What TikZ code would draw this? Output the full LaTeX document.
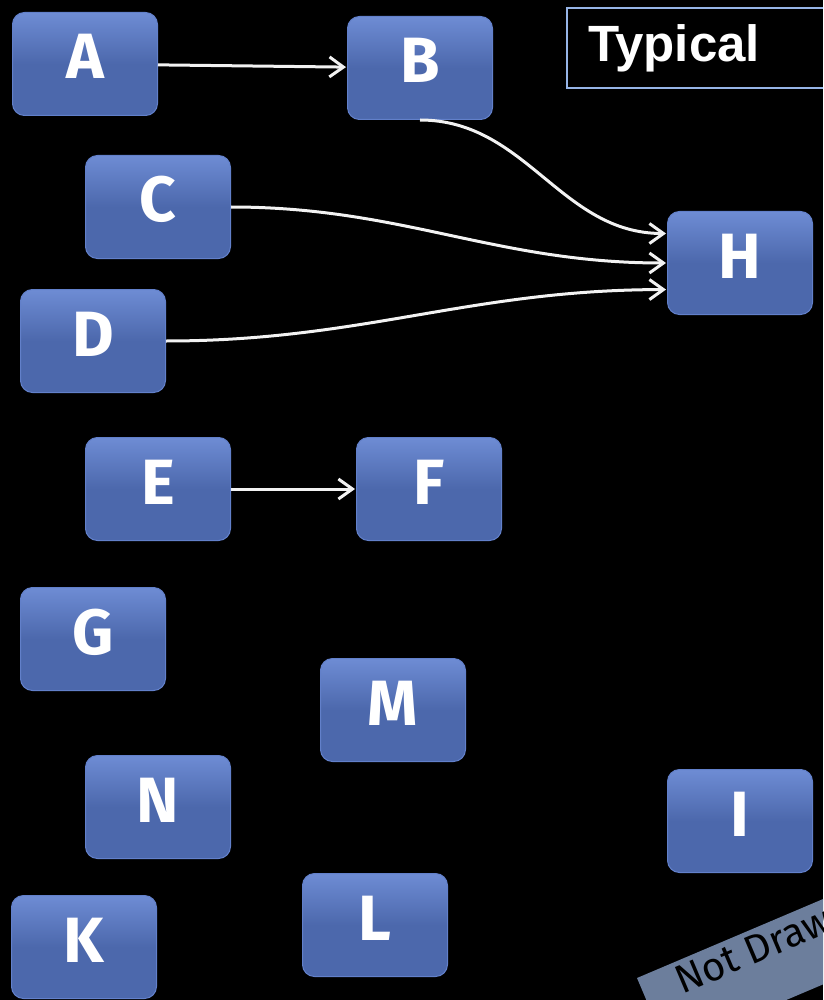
\documentclass[tikz,border=0pt]{standalone}
\usepackage{fontspec}
\setmainfont{Fira Sans}
\newfontfamily\labelfont{Liberation Sans}
\usetikzlibrary{
arrows.meta,
graphs,
positioning,
}
\definecolor{boxfill}{RGB}{76,104,172}
\definecolor{boxtop}{RGB}{110,140,212}
\definecolor{boxedge}{RGB}{98,128,202}
\definecolor{typedge}{RGB}{150,180,230}
\definecolor{notfill}{RGB}{108,126,156}
\definecolor{wire}{RGB}{242,242,242}
\tikzset{
node distance=1em,
outer sep=auto,
every node/.style={align=center},
letter/.style={rectangle, rounded corners=12pt, draw=boxedge, line width=1pt,
  top color=boxtop, bottom color=boxfill, middle color=boxfill,
  minimum width=145pt, minimum height=103pt, text=white,
  text height=44pt, text depth=14pt,
  font=\fontsize{64}{64}\selectfont\bfseries},
typbox/.style={rectangle, draw=typedge, line width=2pt, text=white,
  text width=230pt, align=left, inner xsep=21pt, minimum height=80pt,
  font=\labelfont\fontsize{51}{51}\selectfont\bfseries},
notdrawn/.style={rectangle, fill=notfill, text=black, align=left,
  inner xsep=35pt, inner ysep=5.5pt, text depth=40pt,
  font=\fontsize{40}{40}\selectfont},
wire/.style={draw=wire, line width=3pt},
>={Straight Barb[length=14pt,width=20pt]},
shorten >=1pt,
}

\begin{document}
\begin{tikzpicture}[x=1pt, y=-1pt]
\useasboundingbox (0,0) rectangle (823,1000);
\clip (0,0) rectangle (823,1000);
\fill[black] (0,0) rectangle (823,1000);
% boxes
\node (A) [letter] at (85,64)  {A};
\node (B) [letter] at (420,68) {B};
\node (C) [letter] at (158,207) {C};
\node (D) [letter] at (93,341) {D};
\node (E) [letter] at (158,489) {E};
\node (F) [letter] at (429,489) {F};
\node (G) [letter] at (93,639) {G};
\node (H) [letter] at (740,263) {H};
\node (M) [letter] at (393,710) {M};
\node (N) [letter] at (158,807) {N};
\node (I) [letter] at (740,821) {I};
\node (K) [letter] at (84,947) {K};
\node (L) [letter] at (375,925) {L};
% labels
\node (typ) [typbox, anchor=west] at (566,48) {Typical};
\node (nds) [notdrawn, rotate=23, anchor=north west] at (637,978) {Not Drawn};
\graph [use existing nodes, edges={wire}] {
    A -> B;
    E -> F;
    B -> [left anchor=south, right anchor=158, out=0, in=180] H;
    C -> [left anchor=east, right anchor=west, out=0, in=180] H;
    D -> [left anchor=east, right anchor=200, out=0, in=180] H;
};
\end{tikzpicture}
\end{document}
